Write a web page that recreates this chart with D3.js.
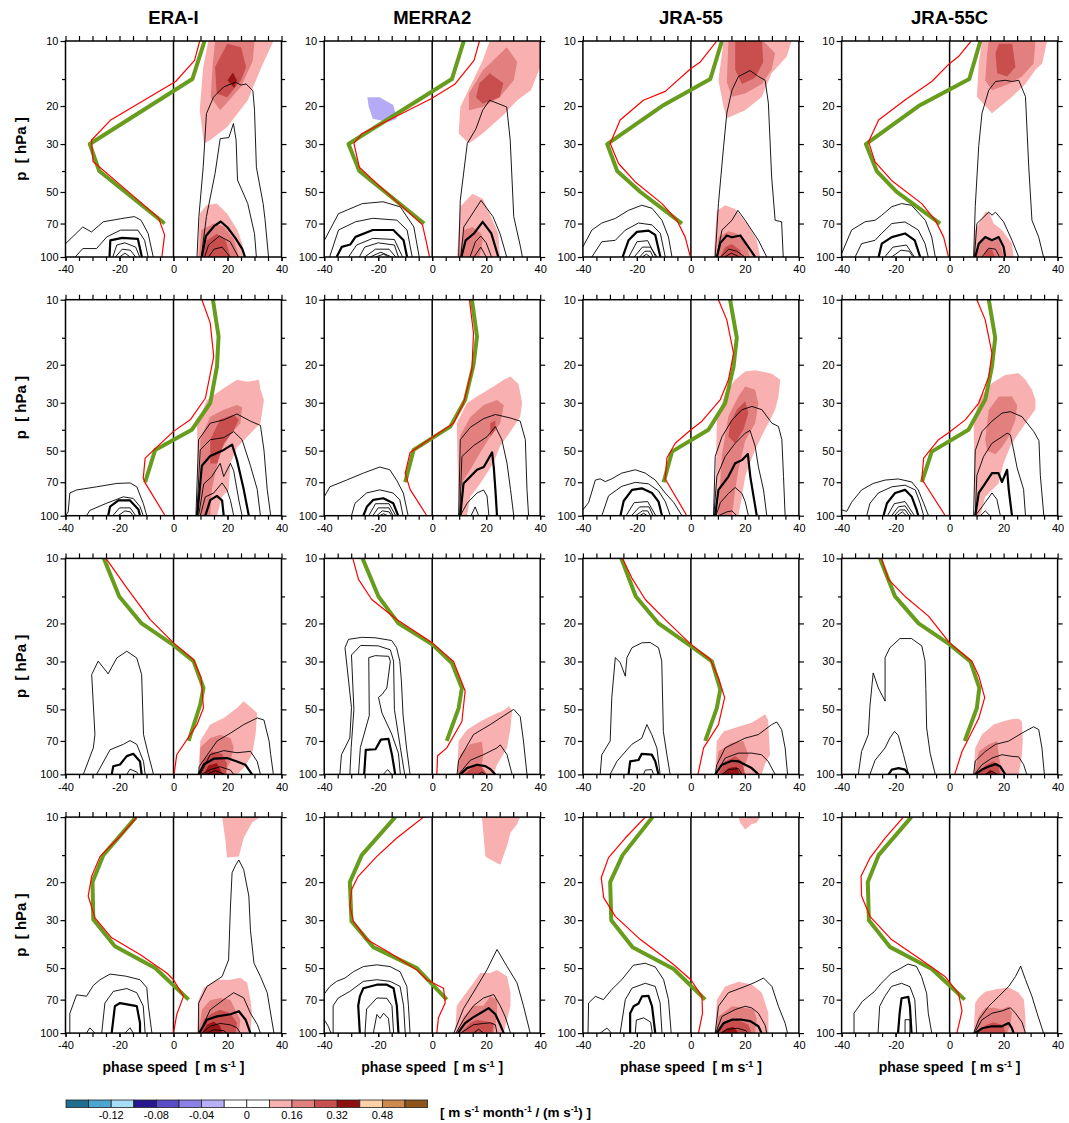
<!DOCTYPE html>
<html>
<head>
<meta charset="utf-8">
<script src="https://cdn.jsdelivr.net/npm/d3@7"></script>
<style>
  body { margin: 0; background: #fff; }
  text { font-family: "Liberation Sans", Arial, sans-serif; fill: #000; }
</style>
</head>
<body>
<div id="chart"></div>
<script>
// column titles and axis ticks
const datasets = ["ERA-I", "MERRA2", "JRA-55", "JRA-55C"];
const xTicks = [-40, -20, 0, 20, 40];
const xMinor = [-40, -35, -30, -25, -20, -15, -10, -5, 0, 5, 10, 15, 20, 25, 30, 35, 40];
const pTicks = [10, 20, 30, 50, 70, 100];
const pMinor = [15, 40];

// shading: level -> colour (level -1 is the small negative patch)
const levelColors = {"-1": "#b5aaf6", "1": "#f9b0b0", "2": "#e28080", "3": "#c94f4f", "4": "#9a1515"};

// colour bar
const cbColors = ["#1d6e8f", "#4aa6cf", "#a6def5", "#26168f", "#5a4cc8", "#8c80e6", "#b8aff8", "#ffffff",
                  "#ffffff", "#f9b0b0", "#e28080", "#c94f4f", "#8e0f0f", "#fdd0a8", "#cc8a4e", "#8f5418"];
const cbLabels = [[2, "-0.12"], [4, "-0.08"], [6, "-0.04"], [8, "0"], [10, "0.16"], [12, "0.32"], [14, "0.48"]];

// panels row by row (ERA-I, MERRA2, JRA-55, JRA-55C); points are "u,p" (m/s, hPa)
const greenProfiles = [
  "11.5,10 7,15 -31,30 -27.5,40 -3.3,70",
  "11.7,10 7.3,15 -31,30 -27,40 -3,70",
  "11.5,10 7.2,15 -10.7,20 -31,30 -27.3,40 -18.7,50 -3.3,70",
  "11.4,10 7.3,15 -11.5,20 -31,30 -27,40 -19.6,50 -3.5,70",
  "14.6,10 16.7,14.8 16.1,20.4 13.6,30.1 6.8,40 -6.8,49.6 -10.5,70",
  "14.7,10 16.6,14.8 15.3,20 12.2,29.1 6.7,38.7 -6.9,49.6 -10,70",
  "14.5,10 17,15 15.8,20.4 12.7,30.1 6.5,40 -7,50.5 -10.1,70",
  "14.5,10 16.9,15 15.7,20.4 13.2,29 7,40 -6.6,50.5 -10.3,70",
  "-25.8,10 -20.1,15 -11.8,20 0,25.2 7.4,29.9 11.1,39.8 9.9,47.6 5.6,70",
  "-25.8,10 -19.9,15 -12.5,20 0,25 7.3,30.5 11,39.8 9.8,49.3 5.4,70",
  "-25.8,10 -20.4,15 -12,20 0,25.5 7.8,30 10.9,40.4 9.6,49.3 5.3,70",
  "-25.8,10 -20.2,15 -11.5,20 0,25 7.7,30 11,39.8 10.1,49.3 5.6,70",
  "-13.9,10 -26,15 -30,20 -29.7,29.8 -21.7,39.6 -6.8,50 5.6,70",
  "-13.7,10 -26.1,15 -30.5,20 -29.9,30.3 -21.8,40 -5.7,50 5.4,70",
  "-14.2,10 -25.3,15 -29.9,20 -29.5,30 -21.6,40 -6.4,50.5 5.3,70",
  "-14.2,10 -26.3,15 -30.3,20 -29.9,30 -22,40 -6.6,50.5 5.6,70"
];

const redProfiles = [
  "9.7,10 7.8,12.3 0.8,15.4 -23.4,23.3 -30.4,28.8 -29.8,36.1 -20,46 -5.6,65.7 -3.3,79 -4.3,100",
  "17.5,10 15.5,12.3 8.5,15.8 -0.4,18.5 -25.9,26.8 -29,29.8 -27,38.4 -19.5,47 -3.6,71 -2.3,83.7 -1,100",
  "9.6,10 3.5,12.5 0,13.4 -9.5,17.1 -17.6,18.8 -26.2,23.2 -29.9,29.8 -26.8,36.9 -20.7,44.8 -10.7,56.6 -5.2,67.6 -2.1,80.9 -0.2,100",
  "8,10 3.3,11.8 0,12.7 -6.6,15.4 -16.4,18.7 -26.3,23.2 -30,29.3 -27.6,36.3 -21.5,44.2 -10.3,56.6 -5.3,67.6 -2.2,80.9 -0.4,100",
  "10.5,10 13.6,12.8 14.9,18.3 11.8,28.6 6.2,36 0,40.7 -10.5,54.1 -11.2,67 -10.5,70.5 -3.1,100",
  "13.8,10 15.3,14.3 14.7,21.1 11.6,30.1 7.9,37.3 1.1,42.5 -8.2,51 -10,63.6 -8.2,75.5 -2,100",
  "10.2,10 13.3,12.4 15.8,17.7 13.9,23.5 10.9,29 4.1,36.5 0,40 -5.8,46.2 -8.9,54.1 -9.5,67.6 -1.5,100",
  "10.1,10 13.2,12.4 15.7,17.7 14.5,22.7 10.8,30.1 5.8,36 0,41 -4.1,44.5 -9.6,54.1 -10.3,67.6 -1.6,100",
  "-25,10 -17.3,13.7 -8.6,19.2 0,24.6 7.4,29.4 10.2,35.7 11.1,49.3 8.7,58.8 1.2,81.1 0.2,100",
  "-29.4,10 -27.3,12.5 -22.4,15.5 -13.1,19.2 0,24.6 7.9,30 12.2,41.1 11,56.9 5.4,75.4 2,82 1.7,100",
  "-25.3,10 -21.9,12.3 -16.9,15.5 -9.5,19.2 0,25 7.2,29.4 10.2,35.7 12.5,44.1 10.2,58.8 4.7,75.4 2.6,100",
  "-25.2,10 -22.7,12.5 -16.5,15 -7.8,18.5 0,24.6 8.3,30 10.8,35 13,44.1 10.8,55 4.6,78.3 1.9,100",
  "-13.6,10 -20.4,12.5 -27.2,15.2 -30.3,18.8 -31.6,23.2 -29.1,29.3 -22.9,36.2 -12.4,43.3 -2.5,52.7 0,56.6 3.7,67.6 1.2,82 0,100",
  "-3.2,10 -13.1,12.5 -20.5,15.2 -27.4,18.8 -29.8,21.6 -30.5,25.8 -29.2,30.3 -24.2,36.9 -15.6,42.6 -5.7,51 -2,56.6 4.2,62 4.8,72.5 2.3,85 1.7,100",
  "-16.9,10 -24.3,12.5 -30.5,15.4 -33.2,19.1 -32.3,23.6 -28,28.8 -18.7,36.9 -7,47.5 0,56.6 4.1,67.6 4.3,80.9 2.8,100",
  "-17.1,10 -23.9,12.5 -29.4,15.4 -32.8,18.8 -32.6,23.2 -29.5,28.8 -21.5,36.9 -10.4,45.9 -1.6,54.9 3.3,65.4 4.6,79 2.7,100"
];

// shaded areas, "level|points"
const fillShapes = [
  ["1|12.9,10 37,10 32.6,13.2 27.5,18.8 19.9,25 13.5,28.8 11.3,29.8 9.7,20.9 11,13.2",
   "2|15.4,10 30,10 29.4,12.3 25,16.3 17.3,20.9 13.8,18.2 14.5,13",
   "3|19.9,10.3 25,10.7 26.9,13.2 25,15.2 19.9,18.2 16,17.5 15.4,13.2",
   "4|20,15.2 22,14 23.5,15.2 22.5,16.5",
   "1|9,100 9.7,63 12.2,57.6 16,56.6 19.9,63 23.7,75 25.6,88 26.2,100",
   "2|9.5,100 10.3,75 14.8,70 18.6,72 22.4,83 24.3,100",
   "3|11,100 12.2,84 16,78 19.2,83 21.1,100"],
  ["-1|-24,18.2 -19.5,18.2 -14.4,19.8 -13.1,22.9 -16.3,23.7 -22,22.9 -23.6,20",
   "1|21.3,10 40,10 40,13.2 36.6,16.9 31.5,18.8 26.4,22 18.7,26.8 13.6,29.8 9.8,26.8 10.4,20.2 13.6,16.7 18.7,12.3",
   "2|27.6,10.7 31.5,12.5 30.2,15.2 25,18.2 18.7,20.2 13.6,20.9 13.6,17.5 18.7,13.7 23.8,11.9",
   "3|21.3,14.1 26.4,15.7 25,18.2 18.7,19.5 16.2,18.2 17.5,15.7",
   "1|9.2,100 10.4,58.6 14.9,50.9 18.7,53.7 21.3,63 24.5,77.8 25.1,100",
   "2|10,100 11.7,75 14.9,72.6 18.1,77.8 18.7,84 17.5,100"],
  ["1|12.1,10 37.3,10 35.5,11.8 29.9,14.1 26.3,18.1 20.1,20.9 13.3,22.8 12.1,20.2 10.2,15.2",
   "2|13.9,10 26.8,10 31.2,11.4 29.9,13.6 26.3,15.8 20.1,17.5 15.2,18.1 13.3,15.5",
   "3|16.4,10 26.3,10 26.8,12.5 23.8,14.8 18.9,15.8 16.4,13.6",
   "1|8.4,100 9.6,61 12.7,57.6 16.4,60 21.3,71.3 24.4,83.7 25.7,100",
   "2|9.6,100 10.2,80.9 13.9,76 17,77.8 20.1,85 21.9,100",
   "3|10.8,100 12.7,89.9 15.2,87 18.2,93 18.9,100"],
  ["1|12,10 36.1,10 34.3,12.7 31.8,13.6 28.1,15.8 23.2,18.1 15.7,21.6 10.1,18.1 10.8,12.7",
   "2|14.5,10 31.8,10 31.1,12.7 26.8,14.6 21.9,15.8 15.7,16.9 13.2,15.2 13.9,11.4",
   "3|18.2,10.3 23.2,10.3 24.4,13.2 21.3,14.6 17.6,14.1 17,11.4",
   "1|8.7,100 9.5,75 13.2,62 14.5,61.5 16.3,70 19.4,75 23.1,86.7 23.7,100",
   "2|9.5,100 10.8,86.7 14.5,80.9 16.3,85 18.2,81.5 20,100",
   "3|12.6,100 13.9,91.5 15.7,92.5 16.9,100"],
  ["1|9.3,100 8.7,37.3 12.4,29.1 18.6,25.7 23.5,23.5 27.3,24 31.6,23.5 32.2,26 33.5,29.1 32.2,37.3 27.3,43.1 23.5,48.3 21.1,57.1 20.4,76 18,81.8 16.1,100",
   "2|9.9,100 9.9,44.5 13.6,34.8 18.6,32.3 23.5,30.7 25.4,31.5 24.8,37.3 21.1,42 18,48.8 16.1,58.7 14.2,75.5 13.6,100",
   "3|13.6,44.5 17.3,35.8 22.3,34.1 24.2,36 22.3,40.3 18.6,46.5 16.1,57.3 13.6,57.3"],
  ["1|9.8,100 9.1,37.3 12.9,30.1 17.8,27.5 22.7,25.2 26.5,23.5 29,22.7 32,24.6 33.3,30 32.6,34.8 29,40.8 25.2,47.4 22.7,57 17.8,70.9 14.1,81.8 12.9,100",
   "2|10.4,76 10.4,42.5 14.1,35 19.1,30.7 24,29.1 26.5,30.8 25.2,37.3 21.5,43.1 17.8,51 14.1,61.3 11.6,68.4",
   "3|21.5,37.3 23.4,36.2 23.4,40.1 21.5,43.1"],
  ["1|9,100 9.6,36 12.7,27.1 16.4,23.5 20.1,21.5 23.8,21.2 30,22 33.1,23.5 32.4,28.2 31.2,32.3 28.7,37.3 26.3,42.5 23.8,49.5 21.3,59.4 20.1,66 18.9,81.4 17.6,100",
   "2|10,100 11.5,52 13.9,34.6 17.6,28.1 20.1,25.2 23.8,26.1 25,30.2 23.8,37.3 20.1,45 17.6,61.3 16.4,75.9 15.2,100",
   "3|14.5,37.3 17,32.3 20.1,29.5 21.3,33.5 19.5,39.8 16.4,46.2 13.9,43.1"],
  ["1|9.5,100 8.9,37.3 10.8,29 15.7,24.3 20.6,22.3 25.6,21.9 28.1,23.5 30.5,26.1 31.8,29 31.8,32.1 29.4,35.5 25.6,41.4 22.5,47.7 20,57.2 18.1,70.9 13.2,81.8 11.4,100",
   "2|13.2,44.5 14.5,32.5 18.2,28.1 23.1,28.1 25,30.8 24.4,36 21.9,43.1 19.5,48 17,52 13.9,50"],
  ["1|9.3,100 9.9,70.1 13.6,58.8 18.6,54.8 23.5,49.3 26,45.9 31,51.9 30.4,65.4 29.1,81.1 26,93.5 23.5,100",
   "2|9.5,100 9.9,75 13.6,67.8 17.3,65.5 21.1,67.8 22.3,75 21.1,87.1 18.6,100",
   "3|10,100 11.2,86 14.3,78.3 18,80.3 19.8,89 19.5,100",
   "4|11.2,100 13,91 16.1,88.5 18.2,100"],
  ["1|9.2,100 9.8,70.1 12.9,62.1 17.8,56.9 22.7,52.9 26.5,50.4 28.3,48.3 29.6,50.4 29,61 27.7,75.4 24,90.2 22.8,100",
   "2|9.4,100 10.4,81.1 14.1,72.6 18.4,70.5 19,81 17.8,100",
   "3|11.8,100 15.3,92 17.8,90.2 20.3,100"],
  ["1|9,100 9.6,70.1 12.1,63.3 17.6,60.2 22.5,57.7 26.2,53.9 27.4,52.7 28.6,56 29.3,81.1 27.4,90 26.2,100",
   "2|9.2,100 10.2,78.3 15.1,71.4 19.4,70.1 21.3,81.1 20.1,90 18.9,100",
   "3|10.2,100 12.7,87 16.4,82.3 18.9,87 20.1,100",
   "4|11.5,100 14,93.5 17,92 18.2,100"],
  ["1|8.9,100 9.5,75.4 12,65.4 16.3,58.8 20.6,56.4 23.1,55.5 25.6,55.3 26.8,57 27.1,70.1 26.8,81 25.6,100",
   "2|9.2,100 10.8,78.3 14.5,72.6 17.6,70.1 18.2,81 19.4,100",
   "3|10.8,100 13.2,90.5 16.3,87 18.2,92.5 18.8,100",
   "4|13.2,100 15,95 17,100"],
  ["1|18,10 32.2,10 29.1,10.6 26,12.5 24.2,15.2 19.8,15.4 19.2,12.7",
   "1|8.7,100 9.3,70 11.2,61.6 16.1,56.6 21.1,56.6 24.8,55.4 27.3,58.5 28.5,70 29.1,80.9 28.5,100",
   "2|9.3,100 10.5,78 13.6,70.5 17.3,68.7 21.1,70 23.5,80.9 24.8,86.7 24.2,100",
   "3|9.8,100 11.2,86.7 14.3,80.9 17.3,78 21.1,80.9 23.5,89.9 23,100",
   "4|10.5,100 12.4,91.3 14.9,88.3 17.3,92.7 18,100"],
  ["1|18.4,10 32.6,10 31.4,10.8 29,11.8 27.7,13.6 25.2,16.6 21.5,15.7 19.7,15.2 19.1,12.5",
   "1|8.5,100 9.1,74.7 11.6,67.6 15.3,58.5 17.8,52.7 21.5,52.7 24,51 27.7,54.6 29,65 29,74.7 27.7,87 26.5,100",
   "2|9.2,100 11.6,84 15.3,74.7 19,74.7 21.5,67.6 24,70 24,84 22.8,100",
   "3|10.5,100 14.1,89.9 16.6,86.7 22.8,89.9 22.2,100"],
  ["1|17.6,10 25.7,10 24.4,10.6 22.5,10.8 20.1,11.4 18.2,10.6",
   "1|9,100 9.6,70 12.7,60.8 17.6,57.9 22.6,59.5 26.3,65 28.7,80.9 28.7,100",
   "2|9.2,100 10.2,83.7 15.2,75.1 20.1,76.3 23.2,77.5 24.4,86 23.8,100",
   "3|9.6,100 12.1,89.9 15.2,86.7 18.9,88.5 21.3,91.5 22.5,100",
   "4|11.1,100 13.3,95 15.8,93.5 17.6,100"],
  ["1|8.9,100 9.5,72.6 10.8,68.5 13.2,64.4 17.6,62.5 21.9,61.5 25.6,65 27.5,70 28.1,84 28.1,100",
   "2|9.2,100 10.8,83.7 13.2,76.3 16.3,76.3 19.4,77.6 21.9,75.1 23.1,80.9 22.5,92 21.3,100",
   "3|10.8,100 13.2,92 16.3,89 20,92 20.6,100"]
];

// contour lines, "weight|points" (1 thin, 2 thick)
const contourLines = [
  ["1|8.7,100 9.4,65 11,38.4 12.2,21.7 14.8,18.2 18.6,16.3 23,15.5 25,16 26.9,15.8 29.4,17 30,20.9 30.7,38.4 33.2,56.6 33.9,67 35.2,100",
   "1|10.3,100 12.2,65 15.4,41 17.3,28.3 20.5,28 22.2,24.1 23.2,28.8 23.7,44 27.5,56.6 30,78 30.7,100",
   "2|10.5,100 12,80 15,72 17.5,68.5 20,73 23,82 25.5,92 26.5,100",
   "1|11.5,100 13,88 17,80 21,85 24,100",
   "1|13,100 15,92 18,90 21,100",
   "1|-40,86.8 -33.6,72.6 -30.4,76.6 -26,68.7 -19.6,66.5 -14.5,65 -12,67.6 -9.4,77.8 -7.5,100",
   "1|-36.4,100 -33.6,91.4 -28.5,91.4 -24.7,80.7 -19.6,75.1 -13.2,75.1 -10.7,83.7 -9.4,100",
   "2|-23.7,100 -23.4,83.7 -19,81.5 -13.2,82.5 -11.7,100",
   "1|-22.5,100 -21,88 -18,86 -14,90 -12.5,100",
   "1|-21.5,100 -19,92 -16,93 -14,100",
   "1|-20,100 -18,96 -16,100"],
  ["1|9.8,100 10.4,54.7 13,29.8 16.2,25.5 18.7,20.9 21.3,18.8 27.6,20.2 28.9,28.8 30.2,65 32.7,89.8 33.4,100",
   "1|10.6,100 11.7,72.6 18.1,54.7 22.5,65 25.1,77.8 27.6,100",
   "2|10.8,100 12.4,83.7 15.5,77.8 18.7,68.7 21.9,77.8 24.5,100",
   "1|14,100 16,85 18,80 20,86 22,100",
   "1|15.5,100 18,90 20,100",
   "1|-40,84 -34.7,63 -25.9,56.6 -18.2,55.5 -11.8,58.6 -6.8,72.6 -4.8,100",
   "1|-38,100 -34.7,75 -28.4,68.7 -22,66.2 -13.1,67.5 -9.3,75 -7.4,100",
   "2|-35.4,100 -33.5,89.8 -30.3,87.5 -28.4,80.7 -22,75 -14.4,75 -10.6,83.7 -9.3,100",
   "1|-31,100 -28,88 -22,82 -14,83 -11,100",
   "1|-27,100 -25,90 -20,86 -14,88 -12.5,100",
   "1|-25,100 -21,92 -16,92 -13.5,100",
   "1|-23,100 -19,95 -15,100",
   "1|-21,100 -18,97 -16,100"],
  ["1|9,100 10.2,56.6 12.1,30.9 13.3,21.6 15.2,16.9 17.6,14.6 21.9,13.7 25,14.6 27.5,15.2 28.7,19.4 29.9,42.6 31.2,67.6 33.6,68.7 34.2,100",
   "1|9.6,100 11.5,75.1 15.2,67.6 17.4,60.8 20.1,67.6 25,83.7 28.1,100",
   "2|9.6,100 10.9,86 13.3,79.5 15.2,81 18.3,79.5 21.3,89.9 23.8,100",
   "1|11,100 14,92 17,94 20,100",
   "1|12.5,100 15,96 18,100",
   "1|-40,89.8 -36.7,75.1 -33,69.6 -28,66.3 -23.1,60.8 -18.2,57.6 -14.4,59.5 -10.7,67.6 -8.3,80.9 -7,100",
   "1|-36.7,100 -33,85 -28,83.7 -24.3,75.1 -19.4,69.6 -14.4,71 -11.3,77.8 -9.5,100",
   "2|-25.3,100 -23.1,83.7 -20,76.5 -15.7,75.5 -13.2,79 -11.3,100",
   "1|-23,100 -20,85 -16,84 -13,100",
   "1|-21,100 -18,90 -15,90 -12.5,100",
   "1|-19,100 -17,94 -15,94 -14,100",
   "1|-18,100 -16.5,97 -15,100"],
  ["1|8.9,100 9.5,58.5 10.8,30.5 12,21.6 14.5,16.9 17,15.4 20.6,15.2 23.2,15.4 25.6,15.2 28.1,18.1 29.3,37.9 30.5,67.6 33,80.9 34.8,100",
   "1|9.2,100 10.1,70 14.5,62 15.7,64 17,62 20,68.7 23.1,83.7 25.6,100",
   "2|9.5,100 10.8,86.7 13.2,80.9 15.7,83.7 18.2,80.9 20,89.9 20.6,100",
   "1|12,100 14.5,91 17,92 18.5,100",
   "1|-40,96.5 -36.3,75 -31.3,68.7 -27.6,67.6 -25.2,64.2 -21.4,58.5 -17.8,56.6 -14.1,57.6 -9,67.6 -6.6,80.9 -5.3,100",
   "1|-35,100 -32.6,86.7 -27.6,83.7 -25.2,77.8 -21.4,70 -16.5,68.8 -11.6,75 -9.1,86.7 -7.9,100",
   "2|-26.3,100 -25.1,86.7 -21.4,80.9 -16.5,77.8 -12.9,83.7 -10.9,100",
   "1|-24,100 -21,90 -16,88 -13,100",
   "1|-21.5,100 -18,93 -15,94 -13.5,100"],
  ["1|8.3,100 9.3,44.5 13.6,37.3 18.6,36 23.5,33.8 28.5,36.5 32.2,38.2 33.5,49.6 34.7,75.5 36,100",
   "1|8.6,100 9.9,49.6 13.6,44.5 18.6,43.5 22.3,40.8 25.4,44.5 28.5,58.7 31,75.5 32.2,100",
   "2|8.8,100 10.5,58.7 13.6,52.9 18.6,49.6 21.7,46.9 23.5,55.2 26,75.5 27.9,100",
   "1|9.3,100 11.2,71.3 14.2,65.9 17.3,57.2 18.6,65.9 21.1,57.2 22.3,62 24.2,84.6 25.4,100",
   "1|9.9,100 11.8,81.8 14.9,78.5 18,70.5 19.8,76 21.1,85 22.3,100",
   "2|11.8,100 13.6,84.7 16.1,81 18,85 18.6,100",
   "1|-40,100 -39,96 -38.4,78.5 -35.9,76 -28.5,73.5 -21,70.9 -16.1,70.5 -13.6,73.5 -11.2,87.6 -9.9,100",
   "1|-32.2,100 -31,94.5 -24.8,87.6 -18.6,81.8 -14.9,83.2 -12.4,90.8 -11.2,100",
   "2|-24.2,100 -23.5,90.8 -20.4,85 -16.1,85 -13,93.5 -12.4,100",
   "1|-22.5,100 -20,92 -16,92 -14,100",
   "1|-20.5,100 -18,95 -16,96 -15,100"],
  ["1|9.8,100 10.4,44.5 14.1,39 19.1,35.5 23.4,34 29,35.3 32.6,36.5 34.5,44.5 35.1,75.5 35.7,100",
   "1|10.2,100 11,53.2 15.3,47.4 20.3,43.1 23.4,38.7 25.8,44.5 27.7,57.1 29,75.5 30.2,100",
   "2|10.4,100 11.6,70.9 16.6,61.3 19.1,59.5 22.2,50.9 22.8,59.5 23.4,75.5 24,100",
   "1|10.4,100 12.9,87.6 16.6,78.5 19,76 20.3,81 21,100",
   "1|14.4,100 15.9,91 17.2,100",
   "1|-40,81.8 -37.9,73.5 -31.7,68.4 -25.5,63.5 -19.4,59.5 -15.7,61.3 -13.2,68.4 -10.7,78.5 -8.9,100",
   "1|-29.9,100 -28.6,87.6 -24.3,78.5 -19.4,75.9 -14.5,78.5 -12,84.4 -10.8,100",
   "2|-25.5,100 -24.2,91 -21.8,84.4 -18.1,83 -14.4,87.6 -12.6,100",
   "1|-23.5,100 -21,88 -16,88 -13.5,100",
   "1|-22,100 -20,92 -16,92 -14.5,100",
   "1|-20.5,100 -18.5,95 -16,96 -15,100",
   "1|-19.5,100 -18,98 -16.5,100"],
  ["1|8.4,100 9,53.2 11.5,43.1 15.2,36.1 18.9,32.3 22.6,31.2 26.3,32.3 30,37.3 32.4,38.6 33.7,44.5 34.3,65.9 34.9,100",
   "1|8.5,100 9.6,65.9 12.7,53.2 16.4,46.2 20.1,41.5 21.9,40.3 23.8,47.7 25,59.4 26.9,75.9 28.1,100",
   "2|9,100 10.2,75.9 13.9,65.9 16.4,57.2 18.9,55.3 21.1,51.8 22,65.9 23.2,81.4 24.4,100",
   "1|9.3,100 10.9,87 13.9,78.9 16.4,74 18.9,78.9 20.1,86 21.3,100",
   "1|10.2,100 13.3,96 15.2,95 17,100",
   "1|-40,93.9 -37.9,87 -35.4,68.4 -33.6,67.5 -31.7,69.5 -29.3,67.5 -25.6,63.5 -20.6,61.3 -16.9,63.5 -13.2,68.4 -9.5,78.5 -6.4,86.7 -3.3,100",
   "1|-33,100 -30.5,80.9 -25.6,73.1 -20.6,70.1 -15.7,71.2 -12,76.8 -9.5,86 -7.6,100",
   "2|-26.1,100 -24.9,85.5 -21.8,75.9 -18.2,74.7 -14.4,78.5 -12,86 -10.7,100",
   "1|-24,100 -21,87 -16,86 -13,100",
   "1|-22,100 -19,91 -15.5,91 -14,100",
   "1|-20.5,100 -18,95 -16,95 -15,100",
   "1|-19,100 -17.5,97.5 -16.2,100"],
  ["1|8.9,100 9.5,50 12,40.8 15.7,36.5 19.4,33.5 22.5,33 26.8,34.8 31.2,40.8 33.1,45 33.6,65 34.9,100",
   "1|9.5,100 10.1,65 12.6,53.2 15.7,46.2 19.4,43.1 21.3,41.5 22.5,42.2 23.7,49.6 25,60 27.4,75.5 28.1,100",
   "2|9.5,100 10.8,78.5 13.2,70.9 15.7,63.5 18.1,63.5 19.4,69.8 21.3,61.3 21.9,75.5 23.1,100",
   "1|9.5,100 12,91 15.7,78.5 17.5,84 18.8,100",
   "1|11.4,100 13.2,95 15,100",
   "1|-40,93.9 -38.1,95.5 -36.3,86.7 -32.6,76 -28.3,70.9 -23.9,68.4 -19,67.6 -14,69.8 -11.6,76 -9.6,87.6 -7.8,100",
   "1|-30.7,100 -29.5,87.6 -26.4,78.5 -21.4,73.5 -16.5,72.2 -12.7,76 -10.9,87.6 -9.6,100",
   "2|-24.5,100 -23.2,87.6 -20.2,78.5 -16.5,75.9 -14,81.8 -12.2,94 -11.6,100",
   "1|-23,100 -20.5,88 -16.5,86 -13,100",
   "1|-21.5,100 -19,91 -16.5,90 -14,100",
   "1|-20.5,100 -18.5,94 -16.5,94 -15,100",
   "1|-19.5,100 -17.5,96 -16,100"],
  ["1|9.3,100 9.5,92 16.1,70.1 21.1,64.4 26,58.8 31,54.8 33.5,56 35.4,70.1 36,81 37,100",
   "1|9.9,100 13.6,81 18.6,77.6 23.5,79.4 28.5,78.2 31,87.1 32.2,100",
   "2|9.3,100 11.2,90 14.9,84.6 19.8,84 23.5,87.1 26.6,90.2 29.1,100",
   "1|10.5,100 13.6,95 17.3,92.2 21.1,95.5 22.3,100",
   "1|12.4,100 15.5,96 19,100",
   "1|-33.4,100 -29.7,75.4 -29.1,65.4 -30.3,34.5 -27.9,29.9 -24.2,34.2 -21,28.9 -17.3,26.9 -13.6,28.9 -11.8,34.5 -11.1,65.4 -9.3,81.1 -7.4,100",
   "1|-28.5,100 -23.5,76.9 -18.6,72.6 -16.1,69.7 -13.6,72.6 -11.1,87.1 -10.5,100",
   "2|-22.9,100 -22.3,91.7 -19.8,90 -17.3,82.3 -14.9,80.3 -12.4,87.1 -11.8,100",
   "1|-17.3,100 -16.1,94.6 -13.6,97.5 -13,100"],
  ["1|9.2,100 9.8,86 15.3,65.4 21.5,58.8 26.5,53.5 30.2,50 32.6,54 33.8,70 35.1,100",
   "1|9.8,100 14.1,86 19,81 24,75.4 25.2,73 27.7,81 29.6,100",
   "2|10.4,100 12.9,93.5 16.6,90.2 19.7,91.5 21.5,94.5 23.4,100",
   "1|17.2,100 18.4,97.5 19.7,100",
   "1|-34.2,100 -33.6,81.1 -30.5,67.8 -29.9,49 -32.3,25.9 -31,23.7 -26.1,23.2 -21.2,23.3 -15,24 -13.2,25.9 -12,29.9 -11.4,37 -10.8,53 -9.5,75.4 -8.2,100",
   "1|-30.5,100 -30,75 -29,50 -29.9,28 -26.5,25.3 -20,25.4 -15.5,26.5 -14.3,29.9 -14,50 -11.8,75 -10.2,100",
   "1|-27.3,100 -26.6,75 -23.3,53.4 -23.5,28.8 -21.1,28.2 -16.1,28.4 -15.5,29.9 -16.8,39.8 -18.6,42.7 -19.9,44 -18.6,52 -15,65 -12.5,80 -11.8,100",
   "2|-25.2,100 -24.6,77 -21,76.5 -19,69 -16.2,68.5 -14.9,81 -13.7,100",
   "1|-18.1,100 -16.5,95 -15,100"],
  ["1|9,100 9.6,90.2 12.7,75.4 20,68 25,65.4 29.9,58.8 31.8,57.2 33.6,62 34.9,75.4 35.8,100",
   "1|9.2,100 12.7,84 17.6,79.7 22.5,79.7 26.2,81.1 28.6,87 31.2,100",
   "2|9,100 11.5,90.2 15.2,86.5 17.6,87 22.5,93.5 25,100",
   "1|11.5,100 14,95 17.6,94 18.9,100",
   "1|-33.6,100 -33,81.1 -29.9,70.1 -29.3,44.1 -28,28.8 -26.2,30.3 -24.3,35.1 -23.7,28.8 -21.8,25.9 -18.2,24.6 -15.1,24.5 -12,25.9 -10.8,29.9 -10.2,63.3 -8.9,81 -7.7,100",
   "1|-29.9,100 -27.4,87 -21.9,72.6 -18.2,68 -16.3,58.8 -14.5,65.4 -12.6,75.4 -11.4,100",
   "2|-23.1,100 -22.5,87.1 -19.4,85.8 -18.2,80.3 -14.5,81 -13.2,87 -12,100",
   "1|-17.5,100 -16.9,95.5 -14.5,95 -13.8,100"],
  ["1|8.9,100 9.5,86.7 13.2,78.3 17,72.6 21.9,70.1 26.8,64.4 31.1,60.2 33,62 34.2,75.4 35.1,100",
   "1|9.2,100 12,90.2 15.7,84 19.4,81.1 23.1,82.5 25.6,83 27.4,90 28.6,100",
   "2|9.5,100 12,95 14.5,92 17,89.6 18.8,92 20.6,100",
   "1|13.2,100 15.7,96.5 17.6,100",
   "1|-33.8,100 -32.6,78.3 -30.1,65.4 -29.5,48.3 -28.3,33.9 -26.4,39.8 -23.9,45.8 -23.9,28.8 -22.1,25.9 -18.4,23.5 -14.1,23.5 -10.3,25.4 -9.1,29.9 -8.8,40 -8.5,61 -7.2,80 -5.3,100",
   "1|-29.5,100 -27.6,86 -23.9,75.4 -22.1,67.8 -20.4,63.2 -19,66 -17.1,80.9 -15.2,100",
   "2|-22.6,100 -21.4,95 -18.9,93.6 -16.5,95 -15.2,100"],
  ["1|9.3,100 9.3,72.6 12.4,60.8 18,54.7 20.4,45.8 21.1,25.8 21.7,18.1 23,16.7 24.2,15.8 26,17.5 27.9,23.2 28.5,33.4 29.8,47.4 32.2,54.7 34.7,65 37.2,100",
   "1|9.6,100 13.6,78 18.6,70 22.3,65 26,68.7 28.5,80.9 31,91 32.2,100",
   "2|9.5,100 12.4,86.7 16.1,83.7 21.1,81.8 24.2,79.2 26.7,86.7 28.5,100",
   "1|10.5,100 13.6,93 17.3,90.2 21.1,91.6 23.5,94.5 24.8,100",
   "1|12.4,100 14.9,96.5 18.6,97.5 19.8,100",
   "1|-38.4,100 -38.4,81.1 -35.9,66.5 -32.2,67.5 -29.7,60.2 -27.2,56.6 -23.5,53.3 -17.7,54.5 -12.4,56.6 -9.9,61.6 -9.3,75 -8,100",
   "1|-26.6,100 -25.4,72.6 -22.3,64.1 -17.3,62.2 -13.6,65 -11.2,75 -10.5,100",
   "2|-22.9,100 -21.7,75 -19.8,72.6 -16.7,73.8 -13.6,75 -12.4,89.9 -12.4,100",
   "1|-32.2,100 -31,94.5 -29.1,100",
   "1|-18,100 -16.1,94.5 -14.9,100"],
  ["1|8,100 11.6,77 16.6,60.8 20.3,50.9 24,41 27.7,49.1 31.4,58.5 33.8,74.7 36.3,100",
   "1|8.8,100 11.6,86.7 15.3,74.7 19,68.8 22.8,66.3 25.2,74.7 27.1,84.3 29,100",
   "2|9.5,100 12.2,89.9 15.3,84.3 19,79.2 20.9,76.6 23.4,81.8 25.2,91.5 26.5,100",
   "1|10.5,100 15.3,91.5 19,90.2 21.5,89.6 23.4,91.5 24,100",
   "1|15.3,100 17.2,96 19,100",
   "1|-40,66 -37.9,60.8 -35.4,57.6 -32.3,55.6 -29.2,52 -25.5,49.2 -20.5,48.3 -15.6,49.2 -11.9,52 -9.4,60.8 -8.8,74.7 -8.2,100",
   "1|-36.7,100 -36.7,74.7 -34.8,68.8 -30.5,64.1 -25.5,57.6 -20.5,56.6 -15.6,57.6 -11.9,60.8 -10.6,74.7 -10,100",
   "2|-26.8,100 -27.4,74.7 -26.8,67.6 -25.5,62 -20.5,59.7 -16.8,59.7 -14.3,62 -13.1,74.7 -12.5,100",
   "1|-24.9,100 -24.3,77.4 -20.5,68.8 -16.8,69 -14.9,74.7 -14.3,100",
   "1|-21.8,100 -20.5,82 -19.3,85.5 -18,80.9 -16.2,85.5 -15.6,100",
   "1|-40,86.7 -38.5,93 -37.5,100"],
  ["1|9,100 10.2,75.1 13.9,65 20.1,60.8 23.8,58.2 26.9,55.6 30,60.8 32.4,75.1 34.9,90 35.8,100",
   "1|9.2,100 11.5,83.7 16.4,77.8 20.1,75.1 22.6,76.5 25,80.9 27.5,92 28.1,100",
   "2|9.6,100 12.1,89.9 15.2,86.7 18.9,86.7 22,88 25,93 26.2,100",
   "1|11.1,100 13.5,96 17.3,95 20.4,97.5 21,100",
   "1|-38.1,100 -37.9,72.6 -35.4,67.6 -32.4,70 -29.3,62.8 -25.6,56.6 -21.3,48.5 -16.9,47.5 -13.2,49.4 -10.1,56.6 -8.3,70 -7.3,100",
   "1|-26.2,100 -24.3,70 -21.8,61.9 -16.9,58.8 -13.2,60.8 -11.4,72.6 -10.7,100",
   "2|-22.5,100 -22.5,80.9 -21.2,75.1 -19.4,73 -18.1,67.6 -15.7,67.2 -14.4,75.1 -13.2,100",
   "1|-20.6,100 -20.2,87 -17.5,85 -14.9,89 -14.3,100",
   "1|-33.6,100 -31.1,94.8 -29.4,100"],
  ["1|8.9,100 10.8,86.7 14.5,75.1 18.2,67.6 21.9,60.8 24.4,54.7 26.3,49 28.1,56.5 30.5,67.6 32.4,80.9 34.8,100",
   "1|9.2,100 12,86.7 15.7,80.9 19.4,79 22.5,76.3 24.4,80.9 26.8,89 28.1,100",
   "2|9.6,100 12,95 15.7,93 19.4,93 21.9,89.9 23.1,95 23.7,100",
   "1|-35.4,100 -35.4,80.9 -32.3,71.3 -27.8,64.1 -25.3,58.8 -21.5,52.7 -19.1,50.9 -15.4,47.9 -12.3,49.1 -10.4,54.7 -8.5,65.4 -7.9,80.9 -6.6,100",
   "1|-26.5,100 -25.9,75.1 -24,67.6 -21.5,60.8 -17.8,58.8 -14.7,61 -12.9,70 -12.2,100",
   "2|-19.1,100 -18.5,80.9 -17.8,69 -15.3,68 -14.7,75.1 -14.1,100",
   "1|-16.5,100 -16.5,86.7 -14.7,86.7 -14.7,100"]
];

const margin = {top: 41, left: 65.5},
      size = 216,
      step = 258.7;

const svg = d3.select("#chart")
    .append("svg")
    .attr("width", 1069)
    .attr("height", 1123);

const x = d3.scaleLinear().domain([-40, 40]).range([0, size]);
const y = d3.scaleLog().domain([10, 100]).range([0, size]);

const parsePts = s => s.split(" ").map(t => t.split(",").map(Number));
const line = d3.line().x(d => x(d[0])).y(d => y(d[1]));
const plain = d => String(d);

svg.append("defs").append("clipPath")
    .attr("id", "clip")
    .append("rect")
    .attr("width", size)
    .attr("height", size);

for (let i = 0; i < 16; i++) {
    const row = Math.floor(i / 4), col = i % 4;
    const g = svg.append("g")
        .attr("transform", `translate(${margin.left + col * step}, ${margin.top + row * step})`);
    const inner = g.append("g").attr("clip-path", "url(#clip)");

    // shading
    fillShapes[i].forEach(s => {
        const [lev, pts] = s.split("|");
        inner.append("path")
            .attr("d", line(parsePts(pts)) + "Z")
            .attr("fill", levelColors[lev])
            .attr("stroke", "none");
    });

    // contour lines
    contourLines[i].forEach(s => {
        const [w, pts] = s.split("|");
        inner.append("path")
            .attr("d", line(parsePts(pts)))
            .attr("fill", "none")
            .attr("stroke", "#000")
            .attr("stroke-width", w === "2" ? 2.2 : 0.9)
            .attr("stroke-linejoin", "round");
    });

    // zero line
    inner.append("line")
        .attr("x1", x(0)).attr("x2", x(0))
        .attr("y1", 0).attr("y2", size)
        .attr("stroke", "#000")
        .attr("stroke-width", 1.5);

    inner.append("path")
        .attr("d", line(parsePts(greenProfiles[i])))
        .attr("fill", "none")
        .attr("stroke", "#689c1c")
        .attr("stroke-width", 4)
        .attr("stroke-linejoin", "round");

    inner.append("path")
        .attr("d", line(parsePts(redProfiles[i])))
        .attr("fill", "none")
        .attr("stroke", "#ff0000")
        .attr("stroke-width", 1.2)
        .attr("stroke-linejoin", "round");

    // axes: outward ticks on all four sides
    g.append("g")
        .attr("transform", `translate(0, ${size})`)
        .call(d3.axisBottom(x).tickValues(xMinor).tickSize(4).tickFormat(""));
    g.append("g")
        .attr("transform", `translate(0, ${size})`)
        .call(d3.axisBottom(x).tickValues(xTicks).tickSize(4).tickPadding(4.5).tickFormat(plain));
    g.append("g")
        .call(d3.axisTop(x).tickValues(xMinor).tickSize(5).tickFormat(""));
    g.append("g")
        .call(d3.axisLeft(y).tickValues(pTicks).tickSize(5).tickPadding(2).tickFormat(plain));
    g.append("g")
        .call(d3.axisLeft(y).tickValues(pMinor).tickSize(3.5).tickFormat(""));
    g.append("g")
        .attr("transform", `translate(${size}, 0)`)
        .call(d3.axisRight(y).tickValues(pTicks).tickSize(5).tickFormat(""));
    g.append("g")
        .attr("transform", `translate(${size}, 0)`)
        .call(d3.axisRight(y).tickValues(pMinor).tickSize(3.5).tickFormat(""));

    g.selectAll(".domain").remove();
    g.selectAll(".tick line").attr("stroke", "#000").attr("stroke-width", 1.2);
    g.selectAll(".tick text")
        .style("font-family", "'Liberation Sans', Arial, sans-serif")
        .style("font-size", "11px")
        .attr("fill", "#000");

    g.append("rect")
        .attr("width", size)
        .attr("height", size)
        .attr("fill", "none")
        .attr("stroke", "#000")
        .attr("stroke-width", 1.5);

    if (row === 0) {
        g.append("text")
            .attr("x", size / 2)
            .attr("y", -17.5)
            .attr("text-anchor", "middle")
            .style("font-size", "18.5px")
            .style("font-weight", "bold")
            .text(datasets[col]);
    }
    if (col === 0) {
        g.append("text")
            .attr("transform", `translate(${26 - margin.left}, ${size / 2}) rotate(-90)`)
            .attr("text-anchor", "middle")
            .style("font-size", "15px")
            .style("font-weight", "bold")
            .attr("xml:space", "preserve")
            .text("p  [ hPa ]");
    }
    if (row === 3) {
        const t = g.append("text")
            .attr("x", size / 2)
            .attr("y", size + 39)
            .attr("text-anchor", "middle")
            .style("font-size", "14px")
            .style("font-weight", "bold")
            .attr("xml:space", "preserve");
        t.append("tspan").text("phase speed  [ m s");
        t.append("tspan").attr("dy", -5).style("font-size", "9px").text("-1");
        t.append("tspan").attr("dy", 5).text(" ]");
    }
}

// colour bar
const cb = svg.append("g").attr("transform", "translate(66, 1100)");
const cbW = 22.6;
cb.selectAll("rect")
    .data(cbColors)
    .enter()
    .append("rect")
    .attr("x", (d, i) => i * cbW)
    .attr("y", 0)
    .attr("width", cbW)
    .attr("height", 7.5)
    .attr("fill", d => d)
    .attr("stroke", "#222")
    .attr("stroke-width", 0.8);
cb.selectAll("text.lab")
    .data(cbLabels)
    .enter()
    .append("text")
    .attr("class", "lab")
    .attr("x", d => d[0] * cbW)
    .attr("y", 18.5)
    .attr("text-anchor", "middle")
    .style("font-size", "11px")
    .text(d => d[1]);

const unit = svg.append("text")
    .attr("x", 440)
    .attr("y", 1117)
    .style("font-size", "13.5px")
    .style("font-weight", "bold")
    .attr("xml:space", "preserve");
unit.append("tspan").text("[ m s");
unit.append("tspan").attr("dy", -5).style("font-size", "8.5px").text("-1");
unit.append("tspan").attr("dy", 5).text(" month");
unit.append("tspan").attr("dy", -5).style("font-size", "8.5px").text("-1");
unit.append("tspan").attr("dy", 5).text(" / (m s");
unit.append("tspan").attr("dy", -5).style("font-size", "8.5px").text("-1");
unit.append("tspan").attr("dy", 5).text(") ]");
</script>
</body>
</html>
